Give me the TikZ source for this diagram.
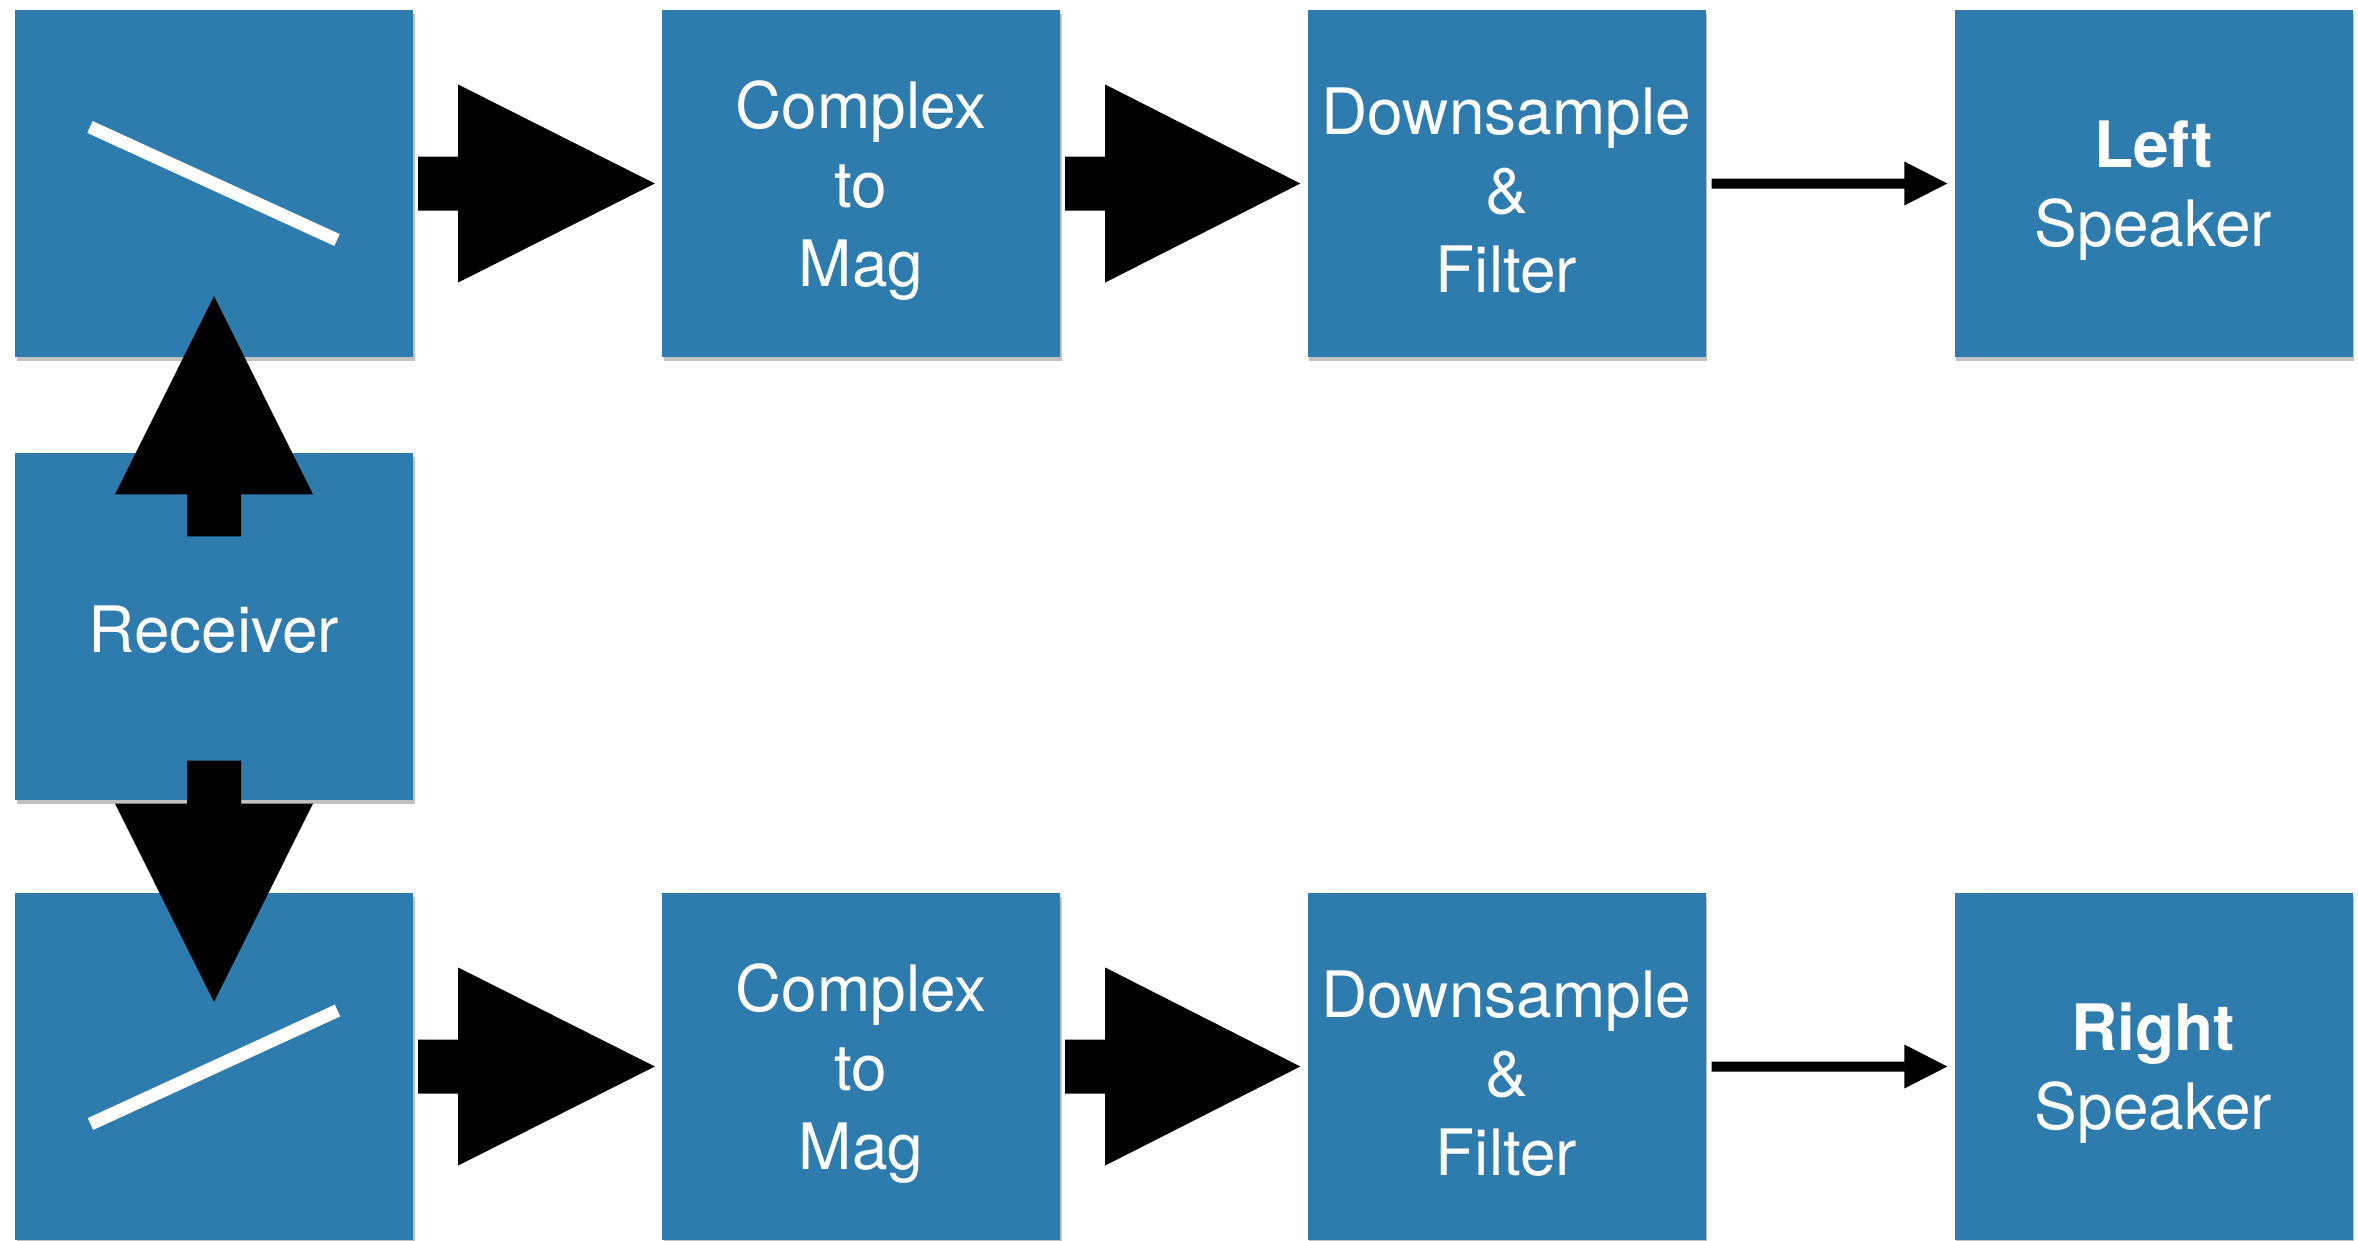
\documentclass[tikz,border=0pt]{standalone}
\usepackage{fontspec}
\setmainfont{TeX Gyre Heros}
\usetikzlibrary{calc,shadows}
\definecolor{panel}{RGB}{46,123,173}
\tikzset{
  stage/.style={rectangle, fill=panel, minimum width=398pt, minimum height=347pt,
    inner sep=0pt,
    drop shadow={shadow xshift=1.5pt, shadow yshift=-4pt, opacity=0.35, fill=black!70}},
  caption/.style={text=white, align=center, inner sep=0pt, yshift=-7pt,
    font=\fontsize{64}{79}\selectfont},
  flowarrow/.style={fill=black},
  switchbar/.style={draw=white, line width=13pt}
}
% wide block arrow from the east side of #1 to the west side of #2
\newcommand\blockarrowright[2]{%
  \fill[flowarrow] ($(#1.east)+(5,-27)$) -- ($(#1.east)+(45,-27)$)
    -- ($(#1.east)+(45,-99)$) -- ($(#2.west)+(-7,0)$)
    -- ($(#1.east)+(45,99)$) -- ($(#1.east)+(45,27)$)
    -- ($(#1.east)+(5,27)$) -- cycle;}
% slim arrow from the east side of #1 to the west side of #2
\newcommand\slimarrowright[2]{%
  \fill[flowarrow] ($(#1.east)+(6,-5)$) -- ($(#2.west)+(-50,-5)$)
    -- ($(#2.west)+(-50,-22)$) -- ($(#2.west)+(-7,0)$)
    -- ($(#2.west)+(-50,22)$) -- ($(#2.west)+(-50,5)$)
    -- ($(#1.east)+(6,5)$) -- cycle;}
\begin{document}
\begin{tikzpicture}[x=1pt,y=-1pt]
\useasboundingbox (0,0) rectangle (2358,1240);

% top chain
\node[stage] (swA) at (214,183.5) {};
\node[stage, label={[caption]center:{Complex\\to\\Mag}}] (magA) at (861,183.5) {};
\node[stage, label={[caption]center:{Downsample\\\&\\Filter}}] (dsA) at (1506.5,183.5) {};
\node[stage, label={[caption]center:{\textbf{Left}\\Speaker}}] (spkA) at (2153.5,183.5) {};

% receiver
\node[stage, label={[caption, yshift=3pt]center:Receiver}] (rx) at (214,626) {};

% bottom chain
\node[stage] (swB) at (214,1066.5) {};
\node[stage, label={[caption]center:{Complex\\to\\Mag}}] (magB) at (861,1066.5) {};
\node[stage, label={[caption]center:{Downsample\\\&\\Filter}}] (dsB) at (1506.5,1066.5) {};
\node[stage, label={[caption]center:{\textbf{Right}\\Speaker}}] (spkB) at (2153.5,1066.5) {};

% switch bars
\draw[switchbar] ($(swA.center)+(-124,-56.5)$) -- ($(swA.center)+(123,56.5)$);
\draw[switchbar] ($(swB.center)+(-123.5,57.5)$) -- ($(swB.center)+(123.5,-56)$);

% horizontal flow
\blockarrowright{swA}{magA}
\blockarrowright{magA}{dsA}
\slimarrowright{dsA}{spkA}
\blockarrowright{swB}{magB}
\blockarrowright{magB}{dsB}
\slimarrowright{dsB}{spkB}

% receiver up to the top switch
\fill[flowarrow] ($(rx.north)+(-27,84)$) -- ($(rx.north)+(-27,42)$)
  -- ($(rx.north)+(-99,42)$) -- ($(swA.south)+(0,-61)$)
  -- ($(rx.north)+(99,42)$) -- ($(rx.north)+(27,42)$)
  -- ($(rx.north)+(27,84)$) -- cycle;

% receiver down to the bottom switch
\fill[flowarrow] ($(rx.south)+(-27,-39)$) -- ($(rx.south)+(-27,4)$)
  -- ($(rx.south)+(-99,4)$) -- ($(swB.north)+(0,109)$)
  -- ($(rx.south)+(99,4)$) -- ($(rx.south)+(27,4)$)
  -- ($(rx.south)+(27,-39)$) -- cycle;
\end{tikzpicture}
\end{document}
